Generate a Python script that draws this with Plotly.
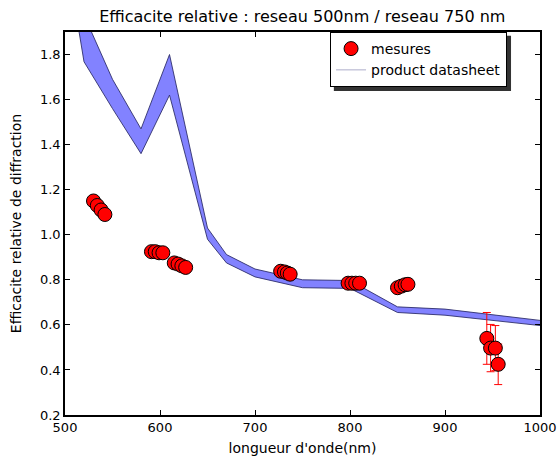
import plotly.graph_objects as go

# measured points
meas_wl = [530, 534, 538, 542, 591, 595, 599, 603, 615, 619, 623, 627,
           727, 731, 734, 737, 798, 802, 806, 810, 850, 854, 858, 861,
           944, 948, 953, 956]
meas_eff = [1.15, 1.13, 1.11, 1.09, 0.925, 0.925, 0.92, 0.92, 0.875, 0.87, 0.862, 0.855,
            0.838, 0.835, 0.83, 0.825, 0.785, 0.785, 0.785, 0.785, 0.765, 0.772, 0.778, 0.78,
            0.54, 0.497, 0.497, 0.425]
meas_err = [0, 0, 0, 0, 0, 0, 0, 0, 0, 0, 0, 0,
            0, 0, 0, 0, 0, 0, 0, 0, 0, 0, 0, 0,
            0.115, 0.105, 0.10, 0.09]

# product datasheet band
ds_wl = [500, 520, 550, 580, 610, 650, 670, 700, 750, 800, 850, 900, 1000]
ds_upper = [2.40, 1.975, 1.69, 1.47, 1.80, 1.03, 0.912, 0.848, 0.80, 0.797, 0.68, 0.67, 0.62]
ds_lower = [2.28, 1.768, 1.56, 1.36, 1.62, 0.98, 0.875, 0.813, 0.765, 0.762, 0.655, 0.643, 0.597]

x_ticks = [500, 600, 700, 800, 900, 1000]
y_ticks = [0.2, 0.4, 0.6, 0.8, 1.0, 1.2, 1.4, 1.6, 1.8]
y_tick_labels = ["0.2", "0.4", "0.6", "0.8", "1.0", "1.2", "1.4", "1.6", "1.8"]

FONT = "DejaVu Sans"
edge = "rgba(40,40,100,0.85)"

fig = go.Figure()
fig.add_trace(go.Scatter(x=ds_wl, y=ds_lower, mode="lines",
                         line=dict(color=edge, width=1), showlegend=False, hoverinfo="skip"))
fig.add_trace(go.Scatter(x=ds_wl, y=ds_upper, mode="lines", fill="tonexty",
                         fillcolor="#8282ff", line=dict(color=edge, width=1),
                         showlegend=False, hoverinfo="skip"))
fig.add_trace(go.Scatter(x=meas_wl, y=meas_eff, mode="markers", name="mesures",
                         marker=dict(color="#ff0000", size=14, line=dict(color="black", width=1)),
                         error_y=dict(type="data", array=meas_err, color="#ff0000",
                                      thickness=1, width=4)))
fig.add_trace(go.Scatter(x=[None], y=[None], mode="lines", name="product datasheet",
                         line=dict(color="#c8c8dc", width=1.5)))

# legend shadow (offset dark box under the legend)
fig.add_shape(type="rect", xref="paper", yref="paper",
              x0=0.566, x1=0.939, y0=0.846, y1=0.99,
              fillcolor="#333333", line=dict(width=0), layer="above")

axis_common = dict(showgrid=False, zeroline=False, showline=True, linecolor="black",
                   linewidth=1.5, mirror="allticks", ticks="inside", ticklen=5,
                   tickcolor="black", automargin=False,
                   tickfont=dict(family=FONT, size=13, color="black"))

fig.update_layout(
    width=558, height=456,
    margin=dict(l=65, r=18, t=32, b=41),
    paper_bgcolor="white", plot_bgcolor="white",
    font=dict(family=FONT, color="black"),
    title=dict(text="Efficacite relative : reseau 500nm / reseau 750 nm",
               x=0.5417, xanchor="center", y=0.965, yanchor="middle",
               font=dict(family=FONT, size=16, color="black")),
    xaxis=dict(range=[500, 1000], tickvals=x_ticks, **axis_common,
               title=dict(text="longueur d'onde(nm)", font=dict(family=FONT, size=14))),
    yaxis=dict(range=[0.2, 1.9], tickvals=y_ticks, ticktext=y_tick_labels, **axis_common,
               title=dict(text="Efficacite relative de diffraction", font=dict(family=FONT, size=14))),
    legend=dict(x=0.558, y=1.0, xanchor="left", yanchor="top", traceorder="normal",
                bgcolor="white", bordercolor="black", borderwidth=1,
                font=dict(family=FONT, size=14, color="black"),
                tracegroupgap=0, itemwidth=30),
    showlegend=True,
)

fig.write_html("out.html", config={"displayModeBar": False},
               post_script="document.body.style.margin='0';")
